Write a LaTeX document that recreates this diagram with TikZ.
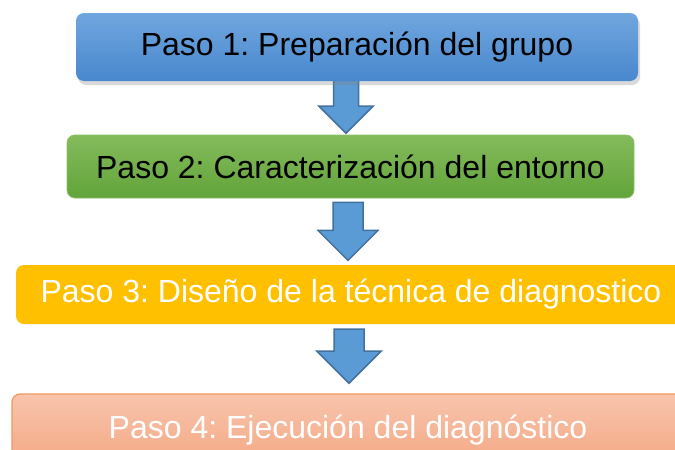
\documentclass[tikz,border=0pt]{standalone}
\usepackage{fontspec}
\setmainfont{Liberation Sans}
\usepackage{tikz}
\usetikzlibrary{positioning,shadows,backgrounds}
\frenchspacing

\definecolor{azularriba}{RGB}{112,166,222}
\definecolor{azulabajo}{RGB}{72,136,206}
\definecolor{verdearriba}{RGB}{132,187,92}
\definecolor{verdeabajo}{RGB}{98,164,58}
\definecolor{verdeborde}{RGB}{140,192,104}
\definecolor{amarillo}{RGB}{255,192,0}
\definecolor{salmonarriba}{RGB}{248,196,172}
\definecolor{salmonabajo}{RGB}{244,168,132}
\definecolor{salmonborde}{RGB}{241,152,92}
\definecolor{flechaazul}{RGB}{91,155,213}
\definecolor{flechaborde}{RGB}{65,113,156}

\tikzset{
	pasobox/.style={rounded corners=8pt, inner sep=0pt, font=\fontsize{32}{38}\selectfont},
	flecha/.style={fill=flechaazul, draw=flechaborde, line width=1.5pt, line join=miter},
	pics/bajada/.style n args={3}{code={
		\draw[flecha] (-#2/2,0) -- (#2/2,0) -- (#2/2,#1-#3/2) -- (#3/2,#1-#3/2) -- (0,#1)
			-- (-#3/2,#1-#3/2) -- (-#2/2,#1-#3/2) -- cycle;
	}}
}

\begin{document}
\begin{tikzpicture}[x=1pt,y=-1pt]
	\clip (0,0) rectangle (675,450);
	% pasos
	\node[pasobox, top color=azularriba, bottom color=azulabajo,
		drop shadow={opacity=0.3, shadow xshift=2pt, shadow yshift=-4pt},
		minimum width=562pt, minimum height=68pt] (paso1) at (357,47) {Paso 1: Preparación del grupo};
	\node[pasobox, top color=verdearriba, bottom color=verdeabajo, draw=verdeborde, line width=0.8pt,
		minimum width=567pt, minimum height=63pt] (paso2) at (350.5,166.5) {Paso 2: Caracterización del entorno};
	\node[pasobox, fill=amarillo, text=white,
		minimum width=670pt, minimum height=59pt] (paso3) at (351,294.5) {Paso 3: Diseño de la técnica de diagnostico};
	\node[pasobox, top color=salmonarriba, bottom color=salmonabajo, draw=salmonborde, line width=1.2pt, text=white,
		minimum width=672pt, minimum height=72pt] (paso4) at (348,430) {Paso 4: Ejecución del diagnóstico};
	% flechas
	\begin{pgfonlayer}{background}
		\pic at ([shift={(-11,-1)}]paso1.south) {bajada={53}{25}{54}};
		\pic at ([shift={(-2.5,4)}]paso2.south) {bajada={58}{30}{60}};
		\pic at ([shift={(-2,5)}]paso3.south) {bajada={54}{30}{64}};
	\end{pgfonlayer}
\end{tikzpicture}
\end{document}
